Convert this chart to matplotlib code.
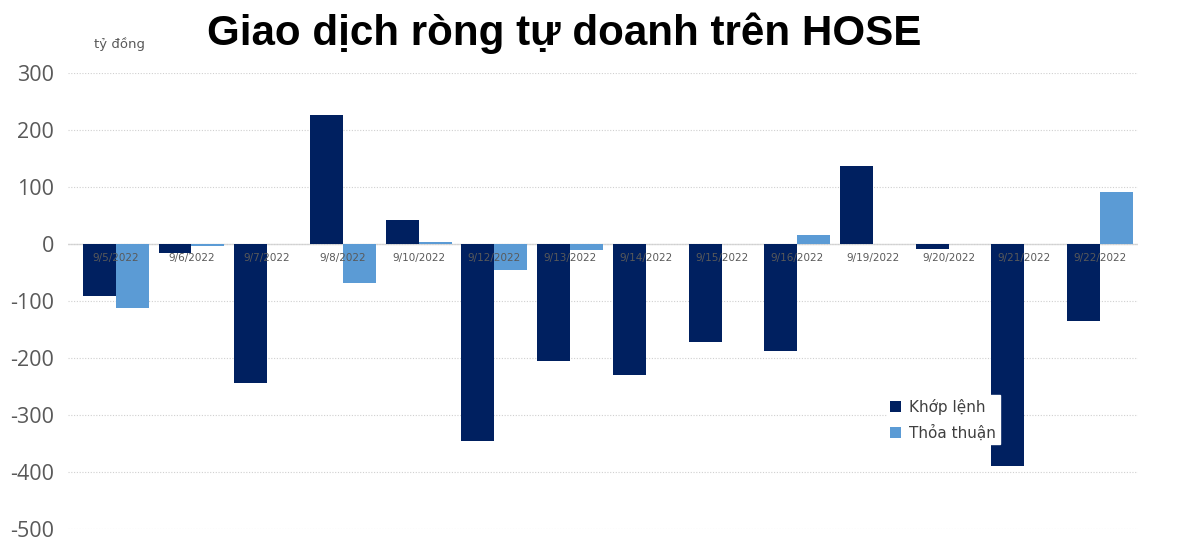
import matplotlib.pyplot as plt
import numpy as np

plt.rcParams["axes.unicode_minus"] = False

ngay = ["9/5/2022", "9/6/2022", "9/7/2022", "9/8/2022", "9/10/2022", "9/12/2022",
        "9/13/2022", "9/14/2022", "9/15/2022", "9/16/2022", "9/19/2022", "9/20/2022",
        "9/21/2022", "9/22/2022"]
khop_lenh = [-91, -16, -243, 226, 42, -346, -206, -230, -172, -188, 137, -9, -390, -135]
thoa_thuan = [-112, -4, 0, -68, 4, -46, -10, 0, 0, 16, 0, 0, 0, 91]

mau_khop = "#002060"
mau_thoa = "#5B9BD5"

fig = plt.figure(figsize=(12, 5.49), dpi=100)
ax = fig.add_axes([0.0567, 0.0364, 0.8916, 0.8306])

x = np.arange(len(ngay))
w = 0.435
ax.bar(x - w / 2, khop_lenh, w, color=mau_khop, label="Khớp lệnh", zorder=2)
ax.bar(x + w / 2, thoa_thuan, w, color=mau_thoa, label="Thỏa thuận", zorder=2)

ax.set_ylim(-500, 300)
ax.set_xlim(-0.63, 13.5)
ax.set_yticks(range(-500, 301, 100))
ax.yaxis.grid(True, linestyle=(0, (1, 1.5)), color="#d0d0d0", linewidth=0.8, zorder=0)
ax.axhline(0, color="#d9d9d9", linewidth=1, zorder=1)
for s in ax.spines.values():
    s.set_visible(False)
ax.tick_params(axis="y", length=0, labelsize=15.5, labelcolor="#595959", pad=10)
ax.set_xticks([])
for tk in ax.get_yticklabels():
    tk.set_fontfamily("Open Sans")

# nhan ngay nam ngay duoi truc 0, de len cot
for i, d in enumerate(ngay):
    ax.text(i, -24, d, ha="center", va="center", fontsize=7.5, color="#595959", zorder=3)

fig.text(0.47, 0.94, "Giao dịch ròng tự doanh trên HOSE", ha="center", va="center",
         fontsize=30.3, fontweight="bold", family="Liberation Sans", color="black")
fig.text(0.1, 0.92, "tỷ đồng", ha="center", va="center", fontsize=9.5, color="#595959")

leg = ax.legend(loc="upper left", bbox_to_anchor=(0.758, 0.31), frameon=True,
                fontsize=11, handlelength=0.7, handleheight=0.7, handletextpad=0.5,
                labelspacing=0.6, borderpad=0.25, fancybox=False)
leg.get_frame().set_facecolor("white")
leg.get_frame().set_edgecolor("white")
leg.get_frame().set_alpha(1)
for t in leg.get_texts():
    t.set_color("#404040")

fig.savefig("out.png", dpi=100)
